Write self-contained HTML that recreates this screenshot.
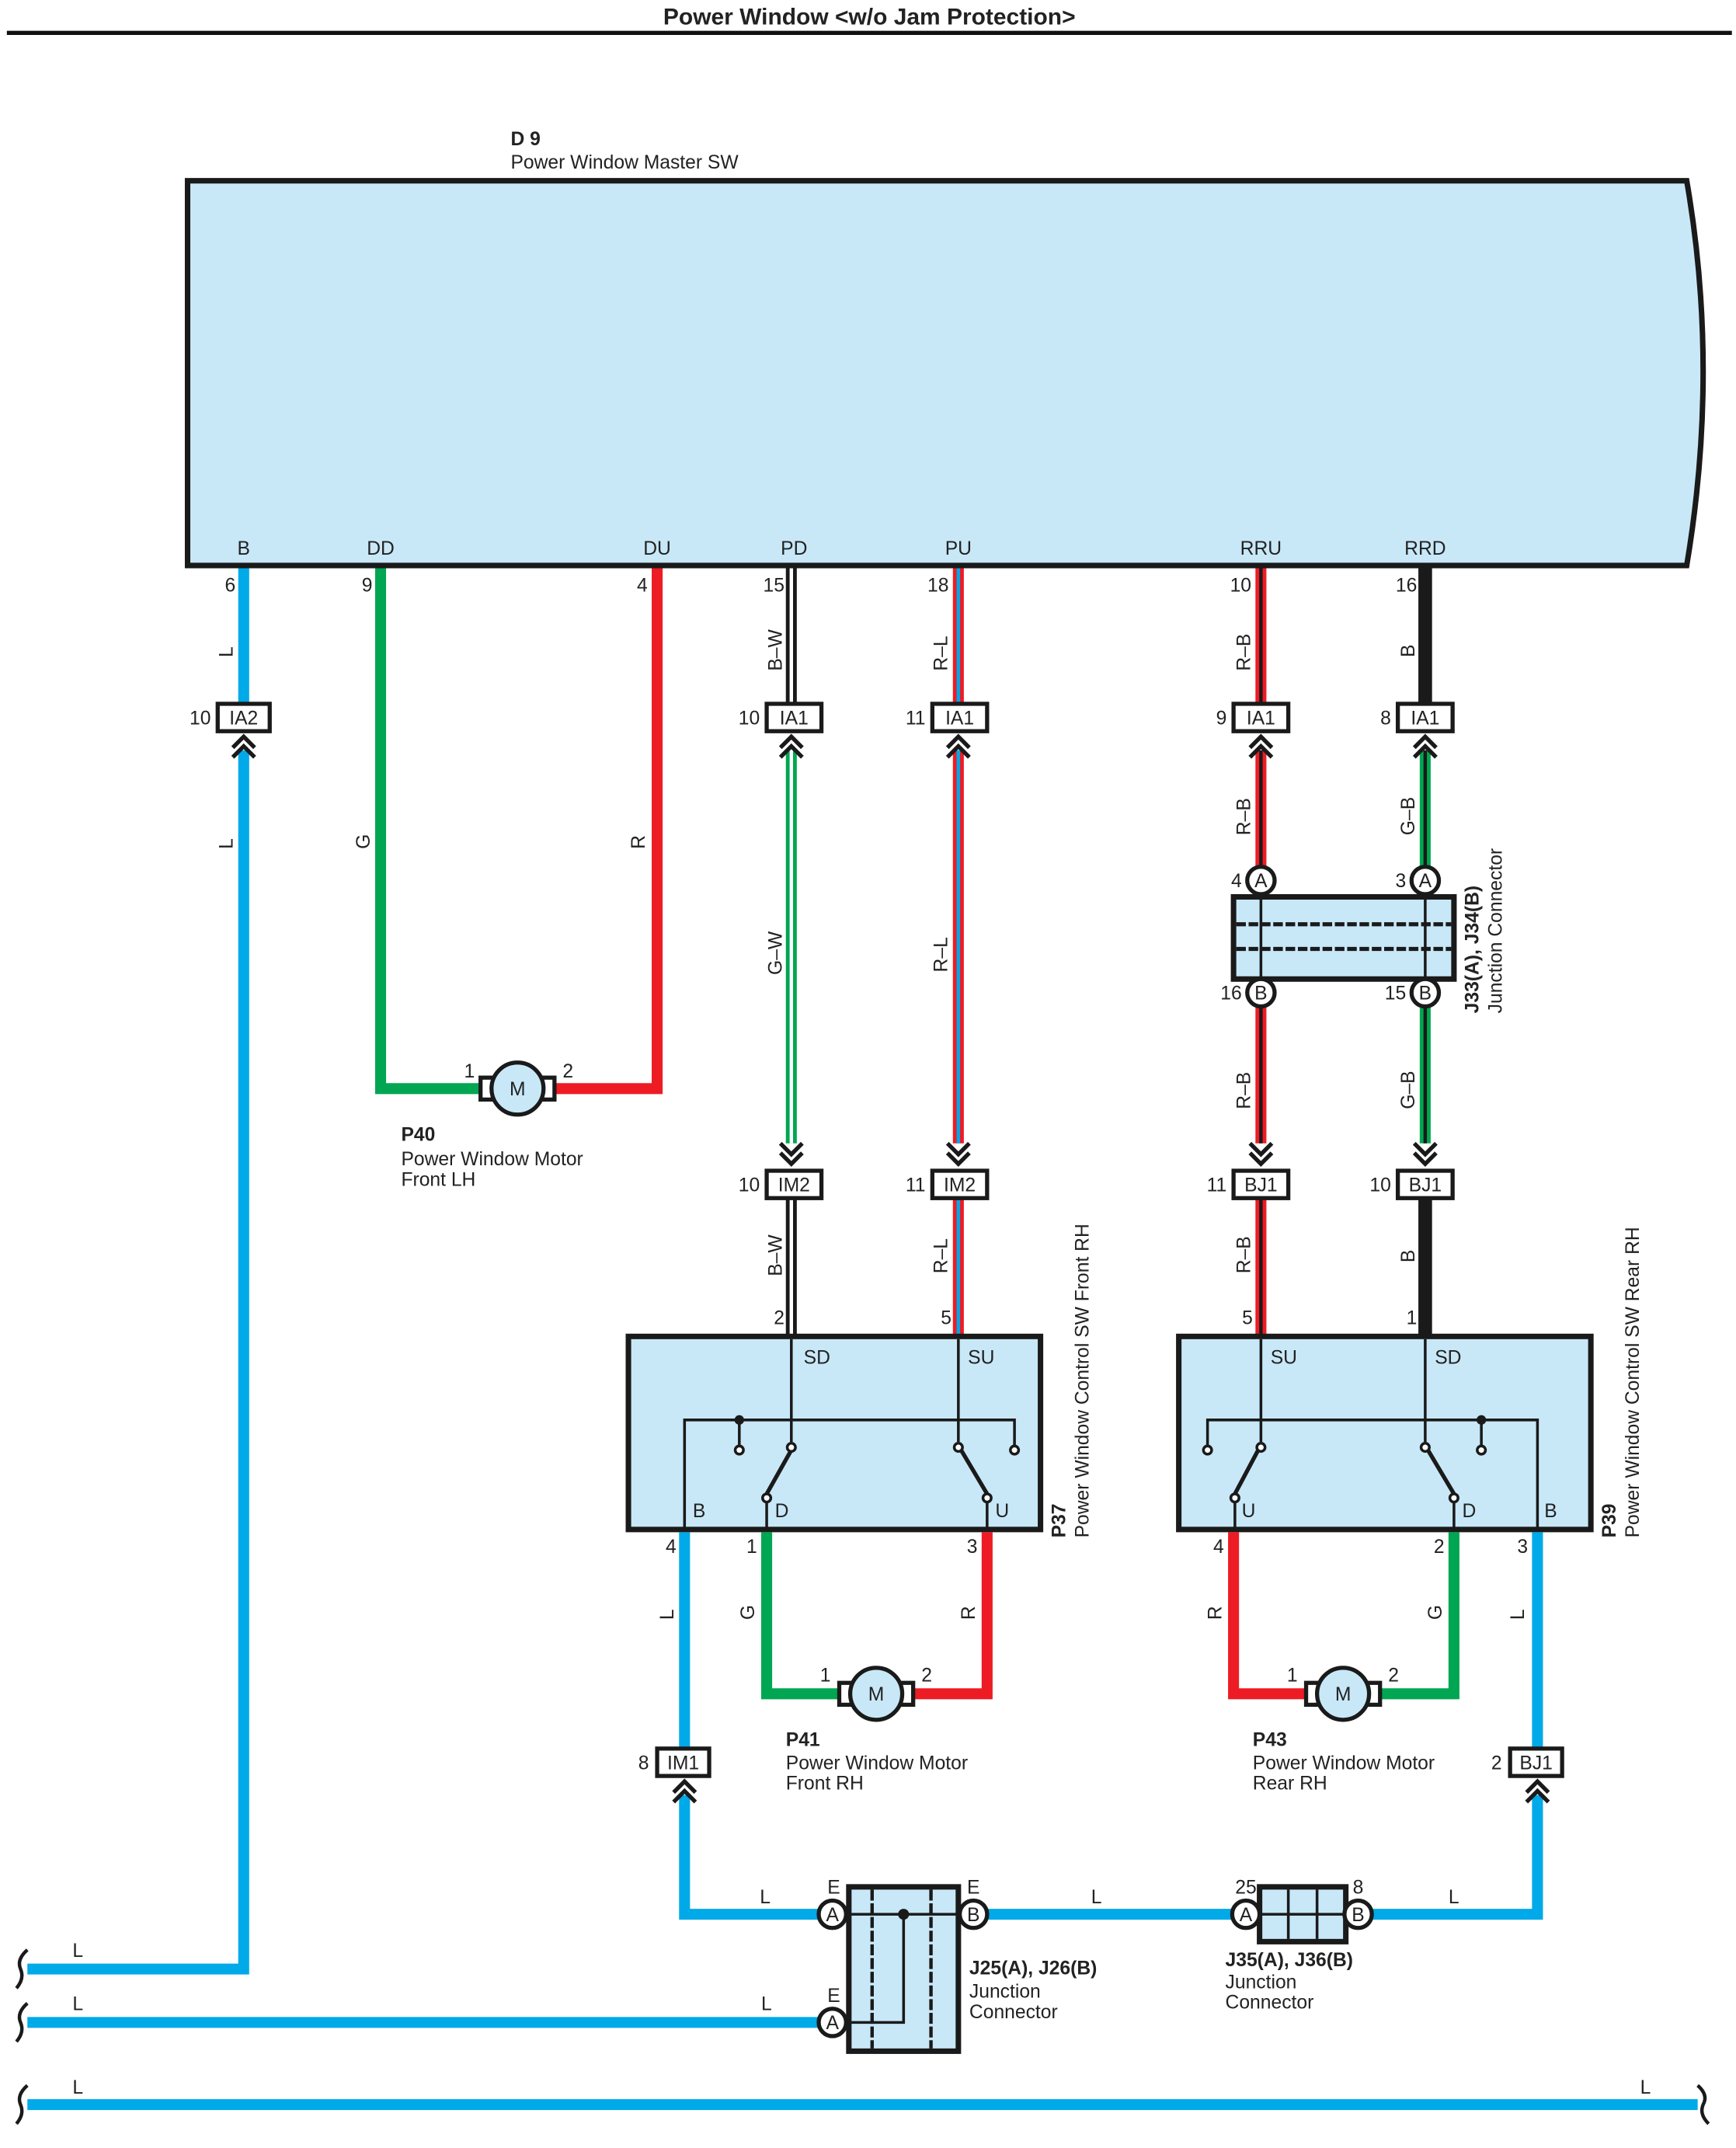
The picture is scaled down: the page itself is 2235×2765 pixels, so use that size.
<!DOCTYPE html>
<html><head><meta charset="utf-8"><style>
html,body{margin:0;padding:0;background:#fff}
svg{display:block}
text{font-family:"Liberation Sans Narrow","Liberation Sans",sans-serif;font-size:14px;fill:#222}
.bd{font-weight:bold}
.w{fill:none;stroke-linecap:butt;stroke-linejoin:miter}
.bl{stroke:#00a9e8;stroke-width:8}
.gr{stroke:#00a651;stroke-width:8}
.rd{stroke:#ed1c24;stroke-width:8}
.bk{stroke:#1a1a1a;stroke-width:8}
.sw{stroke:#fff;stroke-width:2.5}
.sb{stroke:#00a9e8;stroke-width:2.5}
.sk{stroke:#1a1a1a;stroke-width:2.5}
.cb{fill:#fff;stroke:#1a1a1a;stroke-width:3}
.ln{fill:none;stroke:#1a1a1a;stroke-width:2}
.ch{fill:none;stroke:#1a1a1a;stroke-width:3}
.bx{fill:#c8e8f8;stroke:#1a1a1a;stroke-width:4}
</style></head><body>
<svg width="2235" height="2765" viewBox="0 0 1268 1568.7" xmlns="http://www.w3.org/2000/svg">
<text x="635" y="18" text-anchor="middle" class="bd" style="font-family:'Liberation Sans',sans-serif;font-size:17px">Power Window &lt;w/o Jam Protection&gt;</text>
<line x1="5" y1="24" x2="1265" y2="24" stroke="#111" stroke-width="3"/>

<!-- Master SW -->
<text x="373" y="106" class="bd">D 9</text>
<text x="373" y="123">Power Window Master SW</text>
<path d="M137,132 L1232,132 Q1256,270 1232,413 L137,413 Z" class="bx"/>
<g text-anchor="middle">
<text x="178" y="405">B</text><text x="278" y="405">DD</text><text x="480" y="405">DU</text>
<text x="580" y="405">PD</text><text x="700" y="405">PU</text><text x="921" y="405">RRU</text><text x="1041" y="405">RRD</text>
</g>
<g text-anchor="end">
<text x="172" y="432">6</text><text x="272" y="432">9</text><text x="473" y="432">4</text>
<text x="573" y="432">15</text><text x="693" y="432">18</text><text x="914" y="432">10</text><text x="1035" y="432">16</text>
</g>

<!-- Wires -->
<path class="w bl" d="M178,415 V514 M178,548 V1438 H20"/>
<path class="w gr" d="M278,415 V795 H352"/>
<path class="w rd" d="M480,415 V795 H405"/>
<!-- PD -->
<path class="w bk" d="M578,415 V514"/><path class="w sw" d="M578,415 V514"/>
<path class="w gr" d="M578,548 V835"/><path class="w sw" d="M578,548 V835"/>
<path class="w bk" d="M578,875 V976"/><path class="w sw" d="M578,875 V976"/>
<!-- PU -->
<path class="w rd" d="M700,415 V514 M700,548 V835 M700,875 V976"/><path class="w sb" d="M700,415 V514 M700,548 V835 M700,875 V976"/>
<!-- RRU -->
<path class="w rd" d="M921,415 V514 M921,548 V633 M921,735 V835 M921,875 V976"/><path class="w sk" d="M921,415 V514 M921,548 V633 M921,735 V835 M921,875 V976"/>
<!-- RRD -->
<path class="w bk" d="M1041,415 V514 M1041,875 V976" style="stroke-width:10"/>
<path class="w gr" d="M1041,548 V633 M1041,735 V835"/><path class="w sk" d="M1041,548 V633 M1041,735 V835"/>

<!-- wire labels vertical -->
<g>
<text transform="translate(170,480) rotate(-90)">L</text>
<text transform="translate(170,620) rotate(-90)">L</text>
<text transform="translate(270,620) rotate(-90)">G</text>
<text transform="translate(471,620) rotate(-90)">R</text>
<text transform="translate(571,490) rotate(-90)">B–W</text>
<text transform="translate(692,490) rotate(-90)">R–L</text>
<text transform="translate(913,490) rotate(-90)">R–B</text>
<text transform="translate(1033,480) rotate(-90)">B</text>
<text transform="translate(571,712) rotate(-90)">G–W</text>
<text transform="translate(692,710) rotate(-90)">R–L</text>
<text transform="translate(913,610) rotate(-90)">R–B</text>
<text transform="translate(1033,610) rotate(-90)">G–B</text>
<text transform="translate(913,810) rotate(-90)">R–B</text>
<text transform="translate(1033,810) rotate(-90)">G–B</text>
<text transform="translate(571,932) rotate(-90)">B–W</text>
<text transform="translate(692,930) rotate(-90)">R–L</text>
<text transform="translate(913,930) rotate(-90)">R–B</text>
<text transform="translate(1033,922) rotate(-90)">B</text>
<text transform="translate(492,1183) rotate(-90)">L</text>
<text transform="translate(551,1183) rotate(-90)">G</text>
<text transform="translate(712,1183) rotate(-90)">R</text>
<text transform="translate(892,1183) rotate(-90)">R</text>
<text transform="translate(1053,1183) rotate(-90)">G</text>
<text transform="translate(1113,1183) rotate(-90)">L</text>
</g>

<!-- upper connectors IA2/IA1 -->
<g>
<rect x="159" y="514" width="38" height="20" class="cb"/><text x="178" y="529" text-anchor="middle">IA2</text>
<rect x="560" y="514" width="40" height="20" class="cb"/><text x="580" y="529" text-anchor="middle">IA1</text>
<rect x="681" y="514" width="40" height="20" class="cb"/><text x="701" y="529" text-anchor="middle">IA1</text>
<rect x="901" y="514" width="40" height="20" class="cb"/><text x="921" y="529" text-anchor="middle">IA1</text>
<rect x="1021" y="514" width="40" height="20" class="cb"/><text x="1041" y="529" text-anchor="middle">IA1</text>
</g>
<g text-anchor="end"><text x="154" y="529">10</text><text x="555" y="529">10</text><text x="676" y="529">11</text><text x="896" y="529">9</text><text x="1016" y="529">8</text></g>
<g class="ch">
<path d="M170,546 L178,538 L186,546 M170,553 L178,545 L186,553"/>
<path d="M570,546 L578,538 L586,546 M570,553 L578,545 L586,553"/>
<path d="M692,546 L700,538 L708,546 M692,553 L700,545 L708,553"/>
<path d="M913,546 L921,538 L929,546 M913,553 L921,545 L929,553"/>
<path d="M1033,546 L1041,538 L1049,546 M1033,553 L1041,545 L1049,553"/>
</g>

<!-- IM2 / BJ1 -->
<g>
<rect x="560" y="855" width="40" height="20" class="cb"/><text x="580" y="870" text-anchor="middle">IM2</text>
<rect x="681" y="855" width="40" height="20" class="cb"/><text x="701" y="870" text-anchor="middle">IM2</text>
<rect x="901" y="855" width="40" height="20" class="cb"/><text x="921" y="870" text-anchor="middle">BJ1</text>
<rect x="1021" y="855" width="40" height="20" class="cb"/><text x="1041" y="870" text-anchor="middle">BJ1</text>
</g>
<g text-anchor="end"><text x="555" y="870">10</text><text x="676" y="870">11</text><text x="896" y="870">11</text><text x="1016" y="870">10</text></g>
<g class="ch">
<path d="M570,835 L578,843 L586,835 M570,842 L578,850 L586,842"/>
<path d="M692,835 L700,843 L708,835 M692,842 L700,850 L708,842"/>
<path d="M913,835 L921,843 L929,835 M913,842 L921,850 L929,842"/>
<path d="M1033,835 L1041,843 L1049,835 M1033,842 L1041,850 L1049,842"/>
</g>

<!-- J33/J34 -->
<rect x="901" y="655" width="161" height="60" class="bx"/>
<line x1="903" y1="675" x2="1060" y2="675" stroke="#1a1a1a" stroke-width="3" stroke-dasharray="7,2"/>
<line x1="903" y1="693" x2="1060" y2="693" stroke="#1a1a1a" stroke-width="3" stroke-dasharray="7,2"/>
<line x1="921" y1="650" x2="921" y2="720" class="ln"/><line x1="1041" y1="650" x2="1041" y2="720" class="ln"/>
<g><circle cx="921" cy="643" r="10" class="cb"/><text x="921" y="648" text-anchor="middle">A</text>
<circle cx="1041" cy="643" r="10" class="cb"/><text x="1041" y="648" text-anchor="middle">A</text>
<circle cx="921" cy="725" r="10" class="cb"/><text x="921" y="730" text-anchor="middle">B</text>
<circle cx="1041" cy="725" r="10" class="cb"/><text x="1041" y="730" text-anchor="middle">B</text></g>
<g text-anchor="end"><text x="907" y="648">4</text><text x="1027" y="648">3</text><text x="907" y="730">16</text><text x="1027" y="730">15</text></g>
<text transform="translate(1080,740) rotate(-90)" class="bd">J33(A), J34(B)</text>
<text transform="translate(1097,740) rotate(-90)">Junction Connector</text>

<!-- Motor P40 -->
<g>
<rect x="351" y="787" width="9" height="16" class="cb"/><rect x="396" y="787" width="9" height="16" class="cb"/>
<circle cx="378" cy="795" r="19" fill="#c8e8f8" stroke="#1a1a1a" stroke-width="3"/><text x="378" y="800" text-anchor="middle">M</text>
<text x="339" y="787">1</text><text x="411" y="787">2</text>
<text x="293" y="833" class="bd">P40</text><text x="293" y="851">Power Window Motor</text><text x="293" y="866">Front LH</text>
</g>

<!-- Switch P37 -->
<rect x="459" y="976" width="301" height="141" class="bx"/>
<text x="573" y="967" text-anchor="end">2</text><text x="695" y="967" text-anchor="end">5</text>
<text x="587" y="996">SD</text><text x="707" y="996">SU</text>
<text x="506" y="1108">B</text><text x="566" y="1108">D</text><text x="727" y="1108">U</text>
<path class="ln" d="M500,1117 V1037 H741 V1056 M540,1037 V1056 M578,978 V1053 M700,978 V1053 M560,1097 V1117 M721,1097 V1117"/>
<path d="M560,1091 L578,1059 M721,1091 L702,1059" stroke="#1a1a1a" stroke-width="3"/>
<circle cx="540" cy="1037" r="3.5" fill="#1a1a1a"/>
<g fill="#fff" stroke="#1a1a1a" stroke-width="2"><circle cx="540" cy="1059" r="3"/><circle cx="578" cy="1057" r="3"/><circle cx="700" cy="1057" r="3"/><circle cx="741" cy="1059" r="3"/><circle cx="560" cy="1094" r="3"/><circle cx="721" cy="1094" r="3"/></g>
<text transform="translate(778,1123) rotate(-90)" class="bd">P37</text>
<text transform="translate(795,1123) rotate(-90)">Power Window Control SW Front RH</text>

<!-- Switch P39 -->
<rect x="861" y="976" width="301" height="141" class="bx"/>
<text x="915" y="967" text-anchor="end">5</text><text x="1035" y="967" text-anchor="end">1</text>
<text x="928" y="996">SU</text><text x="1048" y="996">SD</text>
<text x="907" y="1108">U</text><text x="1068" y="1108">D</text><text x="1128" y="1108">B</text>
<path class="ln" d="M1123,1117 V1037 H882 V1056 M1082,1037 V1056 M921,978 V1053 M1041,978 V1053 M902,1097 V1117 M1062,1097 V1117"/>
<path d="M902,1091 L919,1059 M1062,1091 L1043,1059" stroke="#1a1a1a" stroke-width="3"/>
<circle cx="1082" cy="1037" r="3.5" fill="#1a1a1a"/>
<g fill="#fff" stroke="#1a1a1a" stroke-width="2"><circle cx="882" cy="1059" r="3"/><circle cx="921" cy="1057" r="3"/><circle cx="1041" cy="1057" r="3"/><circle cx="1082" cy="1059" r="3"/><circle cx="902" cy="1094" r="3"/><circle cx="1062" cy="1094" r="3"/></g>
<text transform="translate(1180,1123) rotate(-90)" class="bd">P39</text>
<text transform="translate(1197,1123) rotate(-90)">Power Window Control SW Rear RH</text>

<!-- lower wires -->
<path class="w bl" d="M500,1119 V1277 M500,1311 V1398 H598"/>
<path class="w gr" d="M560,1119 V1237 H614"/>
<path class="w rd" d="M721,1119 V1237 H667"/>
<path class="w rd" d="M901,1119 V1237 H955"/>
<path class="w gr" d="M1062,1119 V1237 H1008"/>
<path class="w bl" d="M1123,1119 V1277 M1123,1311 V1398 H1002"/>
<path class="w bl" d="M721,1398 H900"/>
<path class="w bl" d="M20,1477 H598"/>
<path class="w bl" d="M20,1537 H1240"/>
<g text-anchor="end"><text x="494" y="1134">4</text><text x="553" y="1134">1</text><text x="714" y="1134">3</text><text x="894" y="1134">4</text><text x="1055" y="1134">2</text><text x="1116" y="1134">3</text></g>

<!-- Motor P41 -->
<g>
<rect x="613" y="1229" width="9" height="16" class="cb"/><rect x="658" y="1229" width="9" height="16" class="cb"/>
<circle cx="640" cy="1237" r="19" fill="#c8e8f8" stroke="#1a1a1a" stroke-width="3"/><text x="640" y="1242" text-anchor="middle">M</text>
<text x="599" y="1228">1</text><text x="673" y="1228">2</text>
<text x="574" y="1275" class="bd">P41</text><text x="574" y="1292">Power Window Motor</text><text x="574" y="1307">Front RH</text>
</g>
<!-- Motor P43 -->
<g>
<rect x="954" y="1229" width="9" height="16" class="cb"/><rect x="999" y="1229" width="9" height="16" class="cb"/>
<circle cx="981" cy="1237" r="19" fill="#c8e8f8" stroke="#1a1a1a" stroke-width="3"/><text x="981" y="1242" text-anchor="middle">M</text>
<text x="940" y="1228">1</text><text x="1014" y="1228">2</text>
<text x="915" y="1275" class="bd">P43</text><text x="915" y="1292">Power Window Motor</text><text x="915" y="1307">Rear RH</text>
</g>

<!-- IM1 / BJ1 lower -->
<rect x="480" y="1277" width="38" height="20" class="cb"/><text x="499" y="1292" text-anchor="middle">IM1</text>
<rect x="1103" y="1277" width="38" height="20" class="cb"/><text x="1122" y="1292" text-anchor="middle">BJ1</text>
<text x="474" y="1292" text-anchor="end">8</text><text x="1097" y="1292" text-anchor="end">2</text>
<g class="ch">
<path d="M492,1309 L500,1301 L508,1309 M492,1316 L500,1308 L508,1316"/>
<path d="M1115,1309 L1123,1301 L1131,1309 M1115,1316 L1123,1308 L1131,1316"/>
</g>

<!-- J25/J26 -->
<rect x="620" y="1378" width="80" height="120" class="bx"/>
<line x1="637" y1="1380" x2="637" y2="1496" stroke="#1a1a1a" stroke-width="2.5" stroke-dasharray="8,2"/>
<line x1="680" y1="1380" x2="680" y2="1496" stroke="#1a1a1a" stroke-width="2.5" stroke-dasharray="8,2"/>
<path class="ln" d="M620,1398 H700 M660,1398 V1477 H620"/>
<circle cx="660" cy="1398" r="4" fill="#1a1a1a"/>
<g><circle cx="608" cy="1398" r="10" class="cb"/><text x="608" y="1403" text-anchor="middle">A</text>
<circle cx="711" cy="1398" r="10" class="cb"/><text x="711" y="1403" text-anchor="middle">B</text>
<circle cx="608" cy="1477" r="10" class="cb"/><text x="608" y="1482" text-anchor="middle">A</text></g>
<text x="609" y="1383" text-anchor="middle">E</text><text x="711" y="1383" text-anchor="middle">E</text><text x="609" y="1462" text-anchor="middle">E</text>
<text x="708" y="1442" class="bd">J25(A), J26(B)</text><text x="708" y="1459">Junction</text><text x="708" y="1474">Connector</text>

<!-- J35/J36 -->
<rect x="920" y="1378" width="63" height="40" class="bx"/>
<path class="ln" d="M920,1398 H983 M941,1380 V1416 M962,1380 V1416"/>
<g><circle cx="910" cy="1398" r="10" class="cb"/><text x="910" y="1403" text-anchor="middle">A</text>
<circle cx="992" cy="1398" r="10" class="cb"/><text x="992" y="1403" text-anchor="middle">B</text></g>
<text x="910" y="1383" text-anchor="middle">25</text><text x="992" y="1383" text-anchor="middle">8</text>
<text x="895" y="1436" class="bd">J35(A), J36(B)</text><text x="895" y="1452">Junction</text><text x="895" y="1467">Connector</text>

<!-- horizontal L labels -->
<text x="555" y="1390">L</text><text x="797" y="1390">L</text><text x="1058" y="1390">L</text>
<text x="53" y="1429">L</text><text x="53" y="1468">L</text><text x="556" y="1468">L</text>
<text x="53" y="1529">L</text><text x="1198" y="1529">L</text>

<!-- break marks -->
<g fill="none" stroke="#1a1a1a" stroke-width="2.5">
<path d="M20,1424 Q12,1431 15,1438 Q18,1445 12,1452"/>
<path d="M20,1463 Q12,1470 15,1477 Q18,1484 12,1491"/>
<path d="M20,1523 Q12,1530 15,1537 Q18,1544 12,1551"/>
<path d="M1240,1523 Q1248,1530 1244,1537 Q1241,1544 1248,1551"/>
</g>
</svg>
</body></html>
